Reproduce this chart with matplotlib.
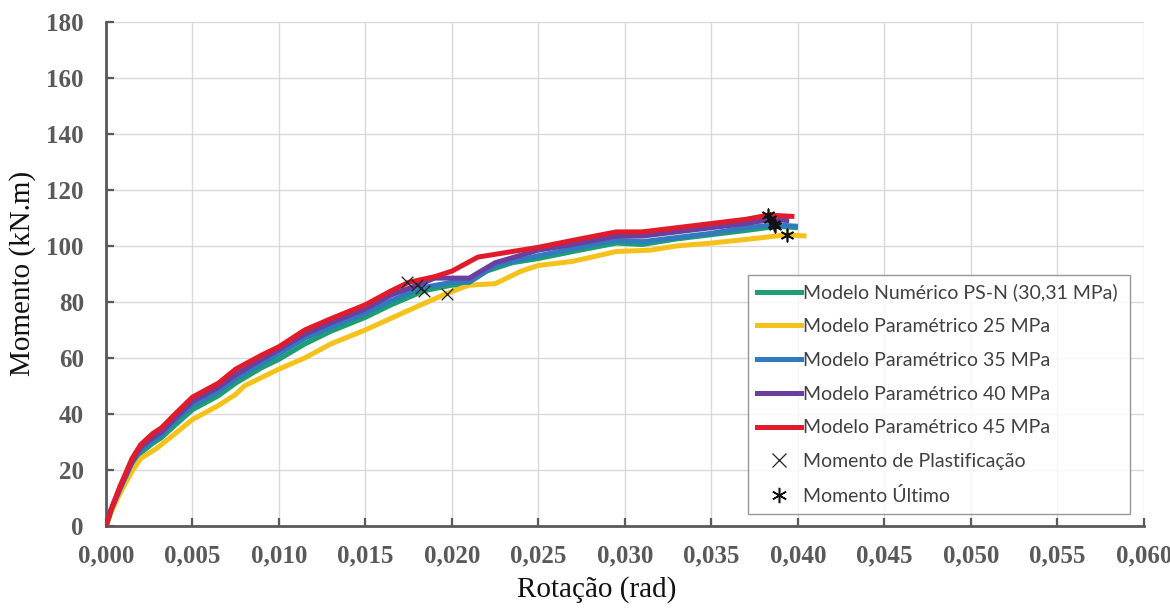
import matplotlib
matplotlib.use("Agg")
import matplotlib.pyplot as plt
from matplotlib.lines import Line2D

# Moment-rotation curves (rotation in rad, moment in kN.m)
rot_num = [0, 0.0003, 0.0008, 0.0015, 0.002, 0.0027, 0.0032, 0.004, 0.005, 0.0065, 0.0075,
           0.009, 0.010, 0.0115, 0.013, 0.015, 0.0165, 0.0184, 0.020, 0.0207, 0.022, 0.0235,
           0.025, 0.027, 0.0295, 0.031, 0.033, 0.035, 0.037, 0.0388, 0.0400]
mom_num = [0, 5.5, 12.5, 21.5, 26, 29.5, 31.5, 36, 41.5, 46.5, 51,
           56.5, 59.5, 65, 69.5, 74.5, 79, 84, 86, 86, 91, 94,
           95.5, 98, 101, 100.5, 102.5, 104, 105.5, 107, 106.5]

rot_25 = [0, 0.0003, 0.0008, 0.0015, 0.002, 0.003, 0.004, 0.005, 0.0065, 0.0075, 0.008,
          0.010, 0.0115, 0.013, 0.015, 0.0175, 0.0197, 0.021, 0.0225, 0.024, 0.025,
          0.027, 0.0295, 0.0315, 0.033, 0.035, 0.038, 0.0394, 0.0405]
mom_25 = [0, 5, 11.5, 19.5, 24, 28, 33, 38, 43, 47, 50,
          56, 60, 65, 70, 77, 83, 86, 86.5, 91, 93,
          94.5, 98, 98.5, 100, 101, 103, 104, 103.5]

rot_35 = [0, 0.0003, 0.0008, 0.0015, 0.002, 0.0027, 0.0032, 0.004, 0.005, 0.0065, 0.0075,
          0.009, 0.010, 0.0115, 0.013, 0.015, 0.0165, 0.0182, 0.020, 0.021, 0.0225,
          0.025, 0.027, 0.0295, 0.031, 0.033, 0.035, 0.037, 0.0387, 0.0400]
mom_35 = [0, 5.8, 13, 22.5, 27, 30.5, 32.5, 37.5, 43, 48, 52.5,
          58, 61.5, 67, 71, 76, 80.5, 85, 87, 87, 93,
          96.5, 99, 102, 101.5, 103, 104.5, 106.5, 107.5, 107]

rot_40 = [0, 0.0003, 0.0008, 0.0015, 0.002, 0.0027, 0.0032, 0.004, 0.005, 0.0065, 0.0075,
          0.009, 0.010, 0.0115, 0.013, 0.015, 0.0165, 0.018, 0.019, 0.021, 0.0225,
          0.025, 0.027, 0.0295, 0.031, 0.033, 0.035, 0.037, 0.0385, 0.0395]
mom_40 = [0, 5.9, 13.5, 23, 28, 31.5, 33.5, 38.5, 44.5, 49.5, 54,
          59.5, 63, 68.5, 72.5, 77.5, 82.5, 86, 88.5, 88.5, 94,
          98.5, 100.5, 103.5, 103.5, 105, 106.5, 108, 109.5, 109]

rot_45 = [0, 0.0003, 0.0008, 0.0015, 0.002, 0.0027, 0.0032, 0.004, 0.005, 0.0065, 0.0075,
          0.009, 0.010, 0.0115, 0.013, 0.015, 0.0165, 0.0175, 0.019, 0.020, 0.0215,
          0.023, 0.025, 0.027, 0.0295, 0.031, 0.033, 0.035, 0.037, 0.0383, 0.0398]
mom_45 = [0, 6, 14, 24, 29, 33, 35, 40, 46, 51, 56,
          61, 64, 70, 74, 79, 84, 87, 89, 91, 96,
          97.5, 99.5, 102, 105, 105, 106.5, 108, 109.5, 111, 110.5]

# Plastic moment points
plast_rot = [0.0174, 0.0180, 0.0182, 0.0184, 0.0197]
plast_mom = [87, 86, 85, 84, 83]

# Ultimate moment points
ult_rot = [0.0383, 0.0384, 0.0386, 0.0387, 0.0394]
ult_mom = [111, 109.5, 108, 107, 104]

series_labels = ["Modelo Numérico PS-N (30,31 MPa)", "Modelo Paramétrico 25 MPa",
                 "Modelo Paramétrico 35 MPa", "Modelo Paramétrico 40 MPa",
                 "Modelo Paramétrico 45 MPa"]
marker_labels = ["Momento de Plastificação", "Momento Último"]

x_ticks = [0.000, 0.005, 0.010, 0.015, 0.020, 0.025, 0.030, 0.035, 0.040, 0.045, 0.050, 0.055, 0.060]
y_ticks = [0, 20, 40, 60, 80, 100, 120, 140, 160, 180]

colors = ["#1f9e74", "#f5c21b", "#2f7bbd", "#6b3fa0", "#e01b2c"]

fig = plt.figure(figsize=(11.70, 6.08), dpi=100)
ax = fig.add_axes([0.0906, 0.135, 0.887, 0.829])

curves = [(rot_num, mom_num), (rot_25, mom_25), (rot_35, mom_35), (rot_40, mom_40), (rot_45, mom_45)]
handles = []
for (xs, ys), c, lab in zip(curves, colors, series_labels):
    ax.plot(xs, ys, color=c, lw=3.6, solid_capstyle="butt", solid_joinstyle="round", zorder=3)
    handles.append(Line2D([], [], color=c, lw=3.6, label=lab))

ax.scatter(plast_rot, plast_mom, marker="x", s=70, color="#222222", linewidths=0.9, zorder=5)
ax.scatter(ult_rot, ult_mom, marker=(6, 2, 0), s=80, color="#111111", linewidths=1.2, zorder=5)
handles.append(Line2D([], [], ls="none", marker="x", ms=10, mew=0.9, color="#222222", label=marker_labels[0]))
handles.append(Line2D([], [], ls="none", marker=(6, 2, 0), ms=11, mew=1.1, color="#111111", label=marker_labels[1]))

ax.set_xlim(0, 0.060)
ax.set_ylim(0, 180)
ax.set_xticks(x_ticks)
ax.set_yticks(y_ticks)
ax.set_xticklabels([f"{v:.3f}".replace(".", ",") for v in x_ticks])
ax.set_yticklabels([str(v) for v in y_ticks])

ax.grid(True, color="#d9d9d9", lw=1.0, zorder=0)
ax.set_axisbelow(True)
for s in ["top", "right"]:
    ax.spines[s].set_visible(False)
for s in ["left", "bottom"]:
    ax.spines[s].set_color("#595959")
    ax.spines[s].set_linewidth(2.0)

ax.tick_params(axis="both", direction="in", length=5.5, width=1.6, color="#595959",
               labelsize=18, labelcolor="#595959")
ax.tick_params(axis="x", pad=13)
ax.tick_params(axis="y", pad=16)
for lbl in ax.get_xticklabels() + ax.get_yticklabels():
    lbl.set_fontfamily("Liberation Serif")
    lbl.set_fontweight("bold")

ax.set_xlabel("Rotação (rad)", fontsize=21, family="Liberation Serif", color="#111111")
ax.set_ylabel("Momento (kN.m)", fontsize=21, family="Liberation Serif", color="#111111")
ax.xaxis.set_label_coords(0.473, -0.100)
ax.yaxis.set_label_coords(-0.0674, 0.5)

leg = ax.legend(handles=handles, loc="upper left", bbox_to_anchor=(0.6185, 0.498, 0.368, 0.0),
                mode="expand", frameon=True, fancybox=False, edgecolor="#7f7f7f",
                prop={"family": "Lato", "size": 14}, labelcolor="#404040",
                handlelength=2.3, handletextpad=0.1, borderaxespad=0, labelspacing=0.86,
                borderpad=0.45)
leg.get_frame().set_linewidth(1.0)
leg.set_zorder(6)

fig.savefig("out.png", dpi=100, facecolor="white")
